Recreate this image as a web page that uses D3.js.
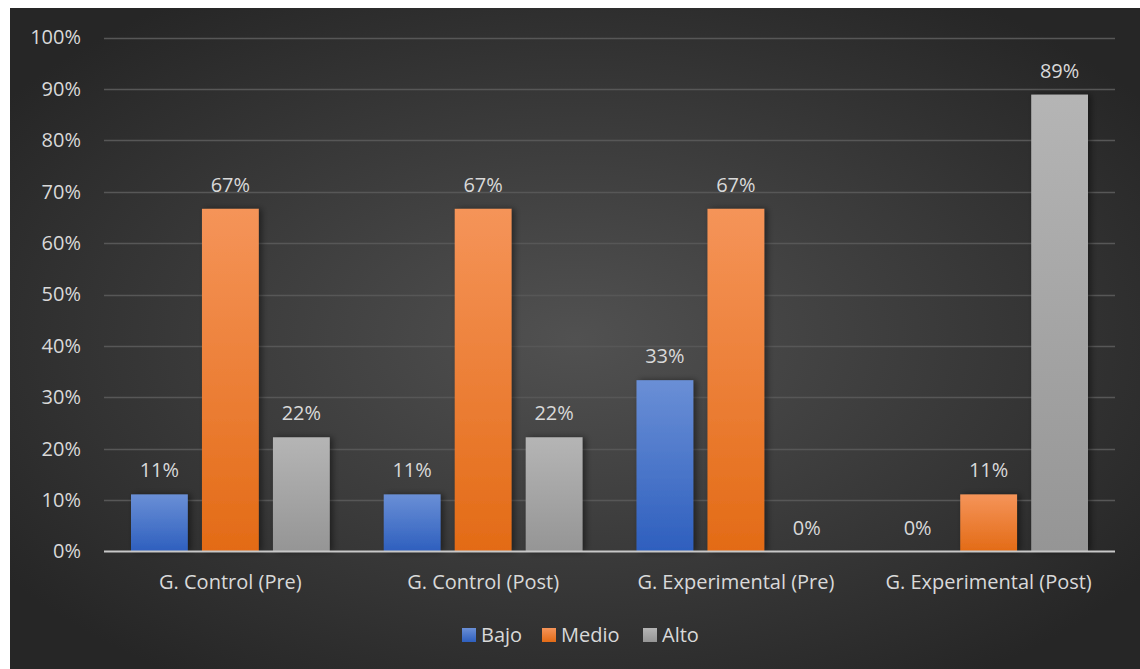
<!DOCTYPE html>
<html><head><meta charset="utf-8">
<script src="https://cdn.jsdelivr.net/npm/d3@7/dist/d3.min.js"></script>
<style>
html,body{margin:0;padding:0;background:#fff;}
svg{display:block;font-family:"Open Sans","Noto Sans",sans-serif;}
</style></head>
<body>
<svg id="chart" width="1140" height="669"></svg>
<script>
const categories = ["G. Control (Pre)", "G. Control (Post)", "G. Experimental (Pre)", "G. Experimental (Post)"];
const seriesNames = ["Bajo", "Medio", "Alto"];
const bajo  = [0.1111, 0.1111, 0.3333, 0.0];
const medio = [0.6667, 0.6667, 0.6667, 0.1111];
const alto  = [0.2222, 0.2222, 0.0, 0.8889];
const yTicks = [0, 0.1, 0.2, 0.3, 0.4, 0.5, 0.6, 0.7, 0.8, 0.9, 1.0];
const seriesValues = [bajo, medio, alto];

const svg = d3.select("#chart");
const W = 1140, H = 669;
const defs = svg.append("defs");
const FS = 20;

// background radial gradient
const bg = defs.append("radialGradient").attr("id","bg").attr("cx","50%").attr("cy","50%").attr("r","62%");
bg.append("stop").attr("offset","0%").attr("stop-color","#515151");
bg.append("stop").attr("offset","100%").attr("stop-color","#262626");
svg.append("rect").attr("x",10).attr("y",8).attr("width",W-10).attr("height",H-8).attr("fill","url(#bg)");

const grads = [
  ["gBajo", "#6a8fd6", "#2e5fbe"],
  ["gMedio", "#f59459", "#e36b16"],
  ["gAlto", "#b5b5b5", "#959595"]
];
grads.forEach(([id, top, bot]) => {
  const g = defs.append("linearGradient").attr("id", id).attr("x1",0).attr("y1",0).attr("x2",0).attr("y2",1);
  g.append("stop").attr("offset","0%").attr("stop-color",top);
  g.append("stop").attr("offset","100%").attr("stop-color",bot);
});
const shadow = defs.append("filter").attr("id","sh").attr("x","-30%").attr("y","-10%").attr("width","160%").attr("height","120%");
shadow.append("feDropShadow").attr("dx",3).attr("dy",0).attr("stdDeviation",3).attr("flood-color","#000").attr("flood-opacity",0.45);

const plot = {left: 104, right: 1115, top: 37.5, bottom: 551.5};
const y = d3.scaleLinear().domain([0, 1]).range([plot.bottom, plot.top]);
const x0 = d3.scaleBand().domain(categories).range([plot.left, plot.right]).padding(0);
const outer = 27;
const x1 = d3.scaleBand().domain(seriesNames).range([outer, x0.bandwidth() - outer]).paddingInner(0.2).paddingOuter(0);

const textColor = "#d9d9d9";

// gridlines
svg.append("g").selectAll("line").data(yTicks.filter(t => t > 0)).join("line")
  .attr("x1", plot.left).attr("x2", plot.right)
  .attr("y1", d => Math.round(y(d)) + 0.5).attr("y2", d => Math.round(y(d)) + 0.5)
  .attr("stroke", "#575757").attr("stroke-width", 1.5);

// y axis labels
const yAxis = d3.axisLeft(y).tickValues(yTicks).tickFormat(d3.format(".0%")).tickSize(0).tickPadding(0);
const ya = svg.append("g").attr("transform", `translate(81,0)`).call(yAxis);
ya.select(".domain").remove();
ya.selectAll("text").attr("fill", textColor).attr("font-size", FS).attr("font-family", '"Open Sans","Noto Sans",sans-serif');

// bars
const groups = svg.append("g").selectAll("g").data(categories).join("g")
  .attr("transform", d => `translate(${x0(d)},0)`);
seriesNames.forEach((s, si) => {
  groups.append("rect")
    .attr("x", x1(s))
    .attr("width", x1.bandwidth())
    .attr("y", (d, i) => y(seriesValues[si][i]))
    .attr("height", (d, i) => y(0) - y(seriesValues[si][i]))
    .attr("fill", `url(#${grads[si][0]})`)
    .attr("filter", "url(#sh)");
  groups.append("text")
    .attr("x", x1(s) + x1.bandwidth() / 2)
    .attr("y", (d, i) => y(seriesValues[si][i]) - 17)
    .attr("text-anchor", "middle")
    .attr("fill", textColor).attr("font-size", FS)
    .text((d, i) => d3.format(".0%")(seriesValues[si][i]));
});

// baseline
svg.append("line").attr("x1", plot.left).attr("x2", plot.right)
  .attr("y1", y(0)).attr("y2", y(0)).attr("stroke", "#c8c8c8").attr("stroke-width", 2);

// x axis labels
const xAxis = d3.axisBottom(x0).tickSize(0).tickPadding(0);
const xa = svg.append("g").attr("transform", `translate(0,${plot.bottom + 37})`).call(xAxis);
xa.select(".domain").remove();
xa.selectAll("text").attr("fill", textColor).attr("font-size", FS).attr("dy", 0)
  .attr("font-family", '"Open Sans","Noto Sans",sans-serif');

// legend
const legendX = [462, 542, 643];
const leg = svg.append("g").selectAll("g").data(seriesNames).join("g")
  .attr("transform", (d, i) => `translate(${legendX[i]},628)`);
leg.append("rect").attr("width", 14).attr("height", 14).attr("fill", (d, i) => `url(#${grads[i][0]})`);
leg.append("text").attr("x", 19).attr("y", 14).attr("fill", textColor).attr("font-size", FS).text(d => d);
</script>
</body></html>
